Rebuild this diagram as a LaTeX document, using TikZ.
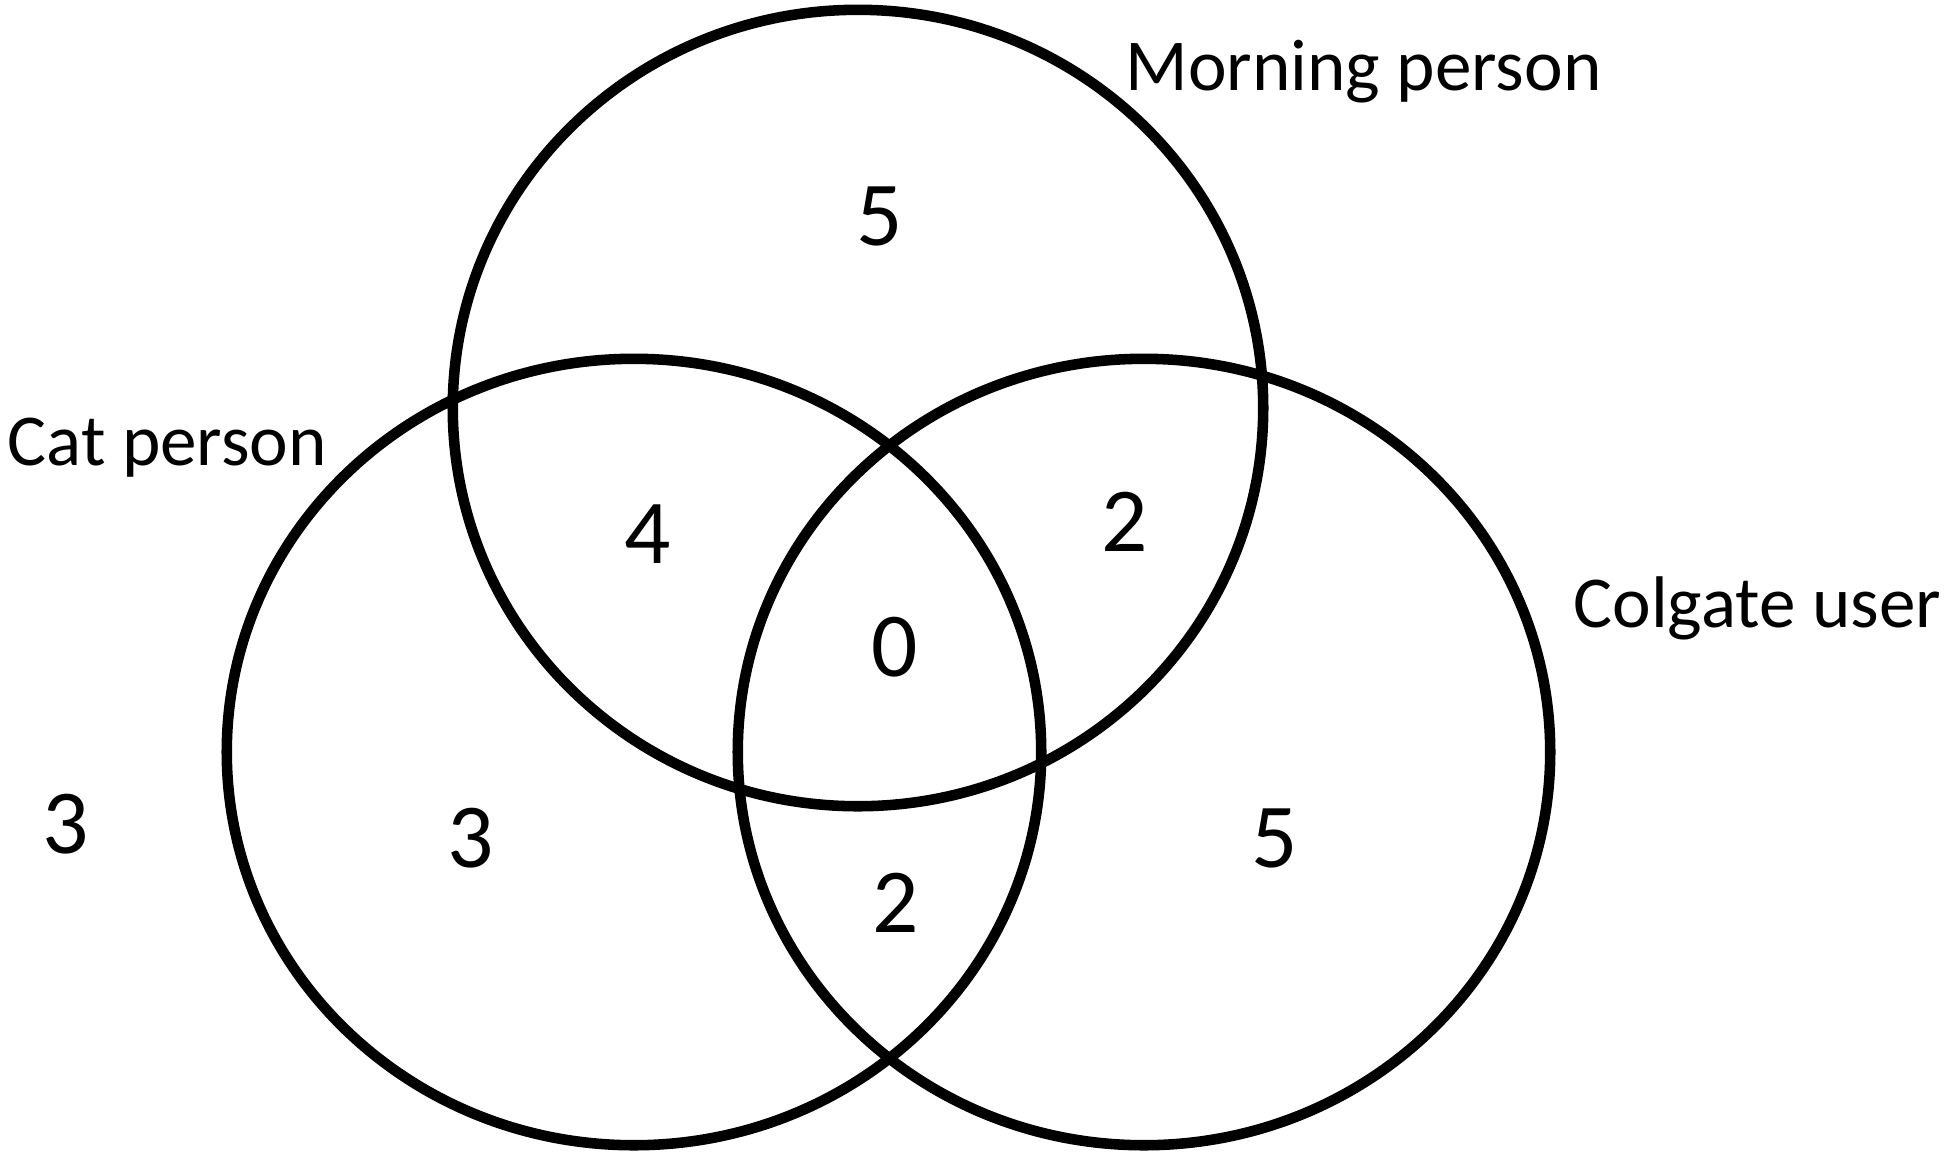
\documentclass[tikz,border=0pt]{standalone}
\usepackage{fontspec}
\setmainfont{Carlito}
\usepackage{tikz}
\usetikzlibrary{positioning}

\begin{document}
\begin{tikzpicture}[x=0.01cm, y=-0.01cm,
    setline/.style={line width=3pt, black},
    setname/.style={font=\fontsize{20.8}{24}\selectfont, inner sep=0pt, anchor=base west},
    count/.style={font=\fontsize{26}{30}\selectfont, inner sep=0pt}]
    \useasboundingbox (0,0) rectangle (1947,1153);

    % The three sets
    \draw[setline] (858,408) ellipse [x radius=4.05cm, y radius=3.98cm];
    \draw[setline] (634,752) ellipse [x radius=4.07cm, y radius=3.93cm];
    \draw[setline] (1144,752) ellipse [x radius=4.06cm, y radius=3.93cm];

    % Set names
    \node[setname] (morning) at (1125,90) {Morning person};
    \node[setname] (cat) at (7,465) {Cat person};
    \node[setname] (colgate) at (1573,627) {Colgate user};

    % Counts in each region
    \node[count] (onlymorning) at (880,216) {5};
    \node[count] (catmorning) at (648,534) {4};
    \node[count] (morningcolgate) at (1125,522) {2};
    \node[count] (all) at (895,647) {0};
    \node[count] (none) at (66,824) {3};
    \node[count] (onlycat) at (471,838) {3};
    \node[count] (onlycolgate) at (1275,838) {5};
    \node[count] (catcolgate) at (896,903) {2};

\end{tikzpicture}
\end{document}
